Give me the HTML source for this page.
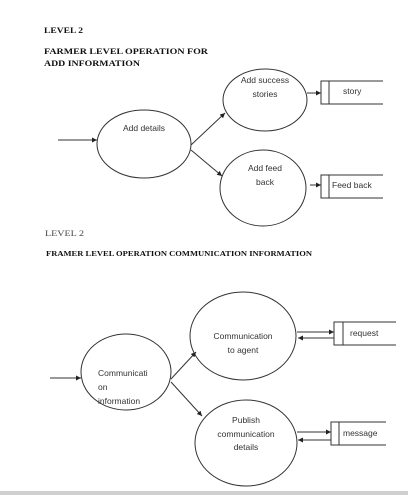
<!DOCTYPE html>
<html><head><style>
html,body{margin:0;padding:0;background:#fff;}
svg{display:block;}
.t{font-family:"Liberation Sans",sans-serif;font-size:8.5px;fill:#333;}
.h{font-family:"Liberation Serif",serif;font-weight:bold;font-size:8.5px;fill:#111;}
</style></head><body>
<svg width="408" height="495" viewBox="0 0 408 495" xmlns="http://www.w3.org/2000/svg">
<defs><marker id="a" markerWidth="6" markerHeight="6" refX="5" refY="3" orient="auto" markerUnits="userSpaceOnUse"><path d="M0,0.5 L5,3 L0,5.5z" fill="#222"/></marker></defs>
<g stroke="#333" stroke-width="1" fill="none">
<ellipse cx="144" cy="144" rx="47" ry="34"/>
<ellipse cx="265" cy="100" rx="42" ry="31"/>
<ellipse cx="263" cy="188" rx="43" ry="38"/>
<line x1="58" y1="140" x2="97" y2="140" marker-end="url(#a)"/>
<line x1="191" y1="145" x2="225" y2="113" marker-end="url(#a)"/>
<line x1="191" y1="150" x2="222" y2="176" marker-end="url(#a)"/>
<line x1="307" y1="93" x2="321" y2="93" marker-end="url(#a)"/>
<line x1="310" y1="185" x2="321" y2="185" marker-end="url(#a)"/>
<path d="M383,81 H321 V104 H383 M329,81 V104"/>
<path d="M383,175 H321 V198 H383 M329,175 V198"/>
<ellipse cx="126" cy="372" rx="45" ry="38"/>
<ellipse cx="243" cy="336" rx="53" ry="44"/>
<ellipse cx="246" cy="443" rx="51" ry="43"/>
<line x1="50" y1="378" x2="81" y2="378" marker-end="url(#a)"/>
<line x1="171" y1="379" x2="196" y2="352" marker-end="url(#a)"/>
<line x1="171" y1="382" x2="202" y2="416" marker-end="url(#a)"/>
<line x1="297" y1="332" x2="334" y2="332" marker-end="url(#a)"/>
<line x1="334" y1="338" x2="298" y2="338" marker-end="url(#a)"/>
<line x1="297" y1="432" x2="331" y2="432" marker-end="url(#a)"/>
<line x1="331" y1="440" x2="298" y2="440" marker-end="url(#a)"/>
<path d="M396,322 H334 V345 H396 M343,322 V345"/>
<path d="M386,422 H331 V445 H386 M339,422 V445"/>
</g>
<text class="h" x="44" y="33" textLength="39" lengthAdjust="spacingAndGlyphs">LEVEL 2</text>
<text class="h" x="44" y="54" textLength="164" lengthAdjust="spacingAndGlyphs">FARMER LEVEL OPERATION FOR</text>
<text class="h" x="44" y="66" textLength="96" lengthAdjust="spacingAndGlyphs">ADD INFORMATION</text>
<text x="45" y="236" textLength="39" lengthAdjust="spacingAndGlyphs" style="font-family:'Liberation Serif',serif;font-size:8.5px;fill:#444">LEVEL 2</text>
<text class="h" x="46" y="256" textLength="266" lengthAdjust="spacingAndGlyphs" style="font-size:7px">FRAMER LEVEL OPERATION COMMUNICATION  INFORMATION</text>
<g class="t" text-anchor="middle">
<text x="144" y="131">Add details</text>
<text x="265" y="83">Add success</text>
<text x="265" y="97">stories</text>
<text x="265" y="171">Add feed</text>
<text x="265" y="185">back</text>
<text x="243" y="339">Communication</text>
<text x="243" y="353">to agent</text>
<text x="246" y="423">Publish</text>
<text x="246" y="437">communication</text>
<text x="246" y="450">details</text>
</g>
<g class="t">
<text x="343" y="94">story</text>
<text x="332" y="188">Feed back</text>
<text x="350" y="336">request</text>
<text x="343" y="436">message</text>
<text x="98" y="376">Communicati</text>
<text x="98" y="390">on</text>
<text x="98" y="404">information</text>
</g>
<rect x="0" y="491" width="408" height="4" fill="#d0d0d0"/>
</svg>
</body></html>
